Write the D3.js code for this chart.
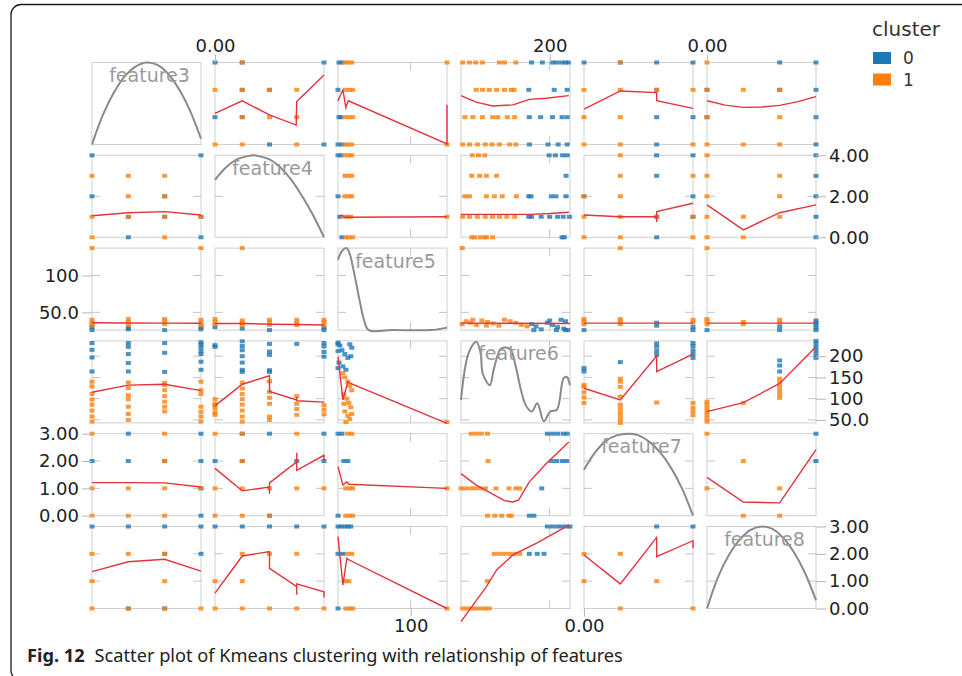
<!DOCTYPE html>
<html>
<head>
<meta charset="utf-8">
<script src="https://cdn.jsdelivr.net/npm/d3@7"></script>
<style>
  body { margin: 0; background: #fff; }
  svg { display: block; }
</style>
</head>
<body>
<script>
// features and their ranges
const features = ["feature3", "feature4", "feature5", "feature6", "feature7", "feature8"];
const extents = [[0, 3], [0, 4], [26, 137], [43, 236], [0, 3], [0, 3]];
const yTicks = [[], [0, 2, 4], [50, 100], [50, 100, 150, 200], [0, 1, 2, 3], [0, 1, 2, 3]];
const xTicks = [[], [0], [100], [200], [0], [0]];
const clusters = ["0", "1"];
const colors = ["#1f77b4", "#ff7f0e"];

// points per pair of features: [lower feature value, higher feature value, cluster]
const f3f4 = [[3,0,0],[3,1,0],[3,1,1],[3,4,0],[2,0,1],[2,1,0],[2,1,1],[2,2,0],[2,2,1],[2,3,1],[1,0,0],[1,1,0],[1,1,1],[1,2,1],[1,3,1],[0,0,1],[0,1,1],[0,2,0],[0,3,1],[0,4,0]];
const f3f5 = [[0,26,0],[1,27,0],[2,26,0],[3,27,0],[0,30,0],[1,29,0],[3,30,0],[0,33,1],[0,36,1],[0,40,1],[1,33,1],[1,37,1],[1,41,1],[2,34,1],[2,38,1],[2,41,1],[3,33,1],[3,36,1],[3,40,1],[3,137,1],[0,137,1]];
const f3f6 = [[0,164,0],[0,197,0],[0,215,0],[0,231,0],[0,46,1],[0,58,1],[0,72,1],[0,86,1],[0,98,1],[0,111,1],[0,129,1],[0,140,1],
  [1,164,0],[1,184,0],[1,205,0],[1,222,0],[1,231,0],[1,50,1],[1,64,1],[1,81,1],[1,99,1],[1,108,1],[1,125,1],[1,138,1],
  [2,163,0],[2,208,0],[2,231,0],[2,70,1],[2,81,1],[2,93,1],[2,106,1],[2,120,1],[2,132,1],[2,137,1],
  [3,168,0],[3,187,0],[3,205,0],[3,212,0],[3,221,0],[3,228,0],[3,233,0],[3,46,1],[3,58,1],[3,69,1],[3,81,1],[3,111,1],[3,120,1],[3,140,1]];
const f3f7 = [[0,0,1],[0,1,1],[0,2,0],[0,3,1],[1,0,1],[1,1,1],[1,2,0],[1,3,0],[2,0,1],[2,1,1],[2,2,0],[2,2,1],[2,3,1],[3,0,0],[3,1,0],[3,1,1],[3,2,0],[3,3,0]];
const f3f8 = [[0,0,1],[0,1,1],[0,2,1],[0,3,0],[1,0,0],[1,0,1],[1,2,1],[1,3,0],[2,0,0],[2,0,1],[2,1,1],[2,2,0],[2,2,1],[2,3,0],[3,0,1],[3,2,0],[3,3,0]];
const f4f5 = [[4,26,0],[4,29,0],[4,33,1],[4,37,1],[4,40,1],[3,33,1],[3,36,1],[3,40,1],[2,26,0],[2,33,1],[2,37,1],[2,40,1],[1,28,0],[1,33,1],[1,36,1],[1,39,1],[1,137,1],[0,30,0],[0,34,1],[0,37,1],[0,41,1]];
const f4f6 = [[4,63,1],[4,74,1],[4,85,1],[4,199,0],[4,210,0],[4,223,0],[4,231,0],
  [3,62,1],[3,76,1],[3,88,1],[3,106,1],[3,229,0],
  [2,50,1],[2,58,1],[2,88,1],[2,102,1],[2,116,1],[2,141,1],[2,163,0],[2,167,0],[2,203,0],[2,211,0],[2,229,0],
  [1,46,1],[1,58,1],[1,72,1],[1,86,1],[1,99,1],[1,111,1],[1,124,1],[1,138,1],[1,163,0],[1,168,0],[1,185,0],[1,200,0],[1,214,0],[1,224,0],[1,235,0],
  [0,62,1],[0,67,1],[0,77,1],[0,85,1],[0,88,1],[0,99,1],[0,222,0],[0,226,0]];
const f4f7 = [[0,0,1],[0,1,1],[0,2,0],[0,3,1],[1,0,1],[1,1,1],[1,2,0],[1,2,1],[1,3,0],[1,3,1],[2,0,0],[2,0,1],[2,1,1],[2,3,0],[3,1,1],[3,2,0],[3,3,1],[4,1,1],[4,2,0],[4,3,0]];
const f4f8 = [[0,0,1],[0,1,1],[0,3,0],[1,0,1],[1,1,1],[1,2,1],[1,3,0],[2,0,1],[2,2,1],[2,3,0],[3,0,1],[3,2,1],[3,3,0],[4,0,1],[4,3,0]];
const f5f6 = [[26,232,0],[28,225,0],[30,214,0],[33,205,0],[36,196,0],[38,228,0],[40,220,0],[27,185,0],[31,176,0],[34,168,0],[26,172,0],[26,212,0],[26,228,0],[39,200,0],
  [31,160,1],[33,150,1],[36,140,1],[38,130,1],[40,120,1],[32,110,1],[35,100,1],[37,90,1],[39,80,1],[33,70,1],[36,60,1],[38,52,1],[34,45,1],[40,64,1],[32,88,1],[137,45,1]];
const f5f7 = [[26,3,0],[30,3,0],[36,3,1],[40,3,1],[32,2,0],[36,2,0],[34,1,1],[38,1,1],[41,1,1],[137,1,1],[26,0,0],[34,0,1],[38,0,1],[41,0,1]];
const f5f8 = [[26,3,0],[29,3,0],[33,3,0],[36,3,0],[39,3,0],[26,2,0],[31,2,0],[36,2,1],[40,2,1],[34,1,1],[37,1,1],[26,0,0],[34,0,1],[38,0,1],[41,0,1],[137,0,1]];
const f6f7 = [[90,0,1],[103,0,1],[115,0,1],[128,0,1],[132,0,1],[164,0,0],[172,0,0],
  [43,1,1],[51,1,1],[60,1,1],[68,1,1],[77,1,1],[86,1,1],[105,1,1],[128,1,1],[140,1,1],[147,1,1],[186,1,0],
  [91,2,1],[203,2,0],[212,2,0],[222,2,0],[230,2,0],
  [61,3,1],[70,3,1],[79,3,1],[90,3,1],[196,3,0],[205,3,0],[214,3,0],[224,3,0],[231,3,0]];
const f6f8 = [[46,0,1],[54,0,1],[62,0,1],[70,0,1],[78,0,1],[86,0,1],[93,0,1],[90,1,1],
  [102,2,1],[111,2,1],[120,2,1],[129,2,1],[138,2,1],[147,2,1],[164,2,0],[178,2,0],[190,2,0],
  [196,3,0],[205,3,0],[214,3,0],[222,3,0],[230,3,0],[236,3,0]];
const f7f8 = [[0,1,1],[0,2,1],[1,0,1],[1,2,1],[2,1,1],[2,3,0],[3,0,1],[3,3,0]];

const pairPoints = {
  "0-1": f3f4, "0-2": f3f5, "0-3": f3f6, "0-4": f3f7, "0-5": f3f8,
  "1-2": f4f5, "1-3": f4f6, "1-4": f4f7, "1-5": f4f8,
  "2-3": f5f6, "2-4": f5f7, "2-5": f5f8,
  "3-4": f6f7, "3-5": f6f8, "4-5": f7f8
};

// smoothed lines per panel (row-col): [column feature value, row feature value]
const line01 = [[0,1.14],[1,1.6],[2,1.08],[2.98,0.71],[3,1.57],[4,2.54]];
const line02 = [[26,1.6],[31,2.0],[34,1.35],[36.5,1.6],[137,0.02],[137,1.45]];
const line03 = [[43,1.79],[70,1.55],[99,1.41],[135,1.45],[164,1.65],[194,1.69],[234,1.79]];
const line04 = [[0,1.29],[1,1.96],[2,1.9],[2,1.6],[3,1.32]];
const line05 = [[0,1.6],[0.5,1.44],[1,1.36],[1.5,1.37],[2,1.43],[2.5,1.57],[3,1.75]];
const line10 = [[0,1.05],[1,1.2],[2,1.25],[3,1.09]];
const line12 = [[26,1.02],[30,1.08],[33,0.98],[137,1.0]];
const line13 = [[43,1.12],[100,1.12],[164,1.12],[200,1.16],[234,1.22]];
const line14 = [[0,1.09],[1,1.0],[2,1.0],[2,0.75],[2,1.25],[3,1.66]];
const line15 = [[0,1.58],[1,0.36],[2,1.2],[3,1.58]];
const line20 = [[0,35.9],[1,35.7],[2,35.5],[3,35.3]];
const line21 = [[0,35],[1,35],[2,34],[3,33.5],[4,33]];
const line23 = [[43,35.5],[236,35]];
const line24 = [[0,35.5],[3,35.5]];
const line25 = [[0,35.5],[3,35.5]];
const line30 = [[0,115],[1,132],[2,134],[3,119]];
const line31 = [[0,83],[1,134],[2,154],[2,117],[3,97],[3,104],[3,95],[4,92]];
const line32 = [[26,199],[31,97],[36,140],[37,138],[137,42]];
const line34 = [[0,124.6],[1,97],[2,200.6],[2,163.7],[3,205]];
const line35 = [[0,69.6],[1,90.8],[2,136],[3,222.5]];
const line40 = [[0,1.21],[1,1.21],[2,1.2],[3,1.05]];
const line41 = [[0,1.73],[1,0.91],[2,1.05],[2,0.8],[2,1.2],[3,1.97],[3,2.3],[3,1.66],[4,2.21],[4,2.0]];
const line42 = [[26,1.79],[31,1.12],[35,1.24],[37,1.15],[137,1.0]];
const line43 = [[43,1.54],[70,1.12],[99,0.79],[120,0.55],[135,0.5],[145,0.57],[164,1.24],[194,1.91],[234,2.7]];
const line45 = [[0,1.4],[1,0.5],[2,0.47],[3,2.42]];
const line50 = [[0,1.35],[1,1.71],[2,1.8],[3,1.37]];
const line51 = [[0,0.56],[1,1.92],[2,2.08],[2,1.47],[3,0.8],[3,0.5],[3,0.9],[4,0.61],[4,0.4]];
const line52 = [[26,2.63],[31,0.86],[35,1.84],[36,1.8],[137,0]];
const line53 = [[43,-0.48],[58,-0.05],[88,0.8],[106,1.41],[135,1.96],[177,2.39],[234,3.05]];
const line54 = [[0,1.96],[1,0.9],[2,2.6],[2,1.9],[3,2.48],[3,2.2]];

const lines = {
  "0-1": line01, "0-2": line02, "0-3": line03, "0-4": line04, "0-5": line05,
  "1-0": line10, "1-2": line12, "1-3": line13, "1-4": line14, "1-5": line15,
  "2-0": line20, "2-1": line21, "2-3": line23, "2-4": line24, "2-5": line25,
  "3-0": line30, "3-1": line31, "3-2": line32, "3-4": line34, "3-5": line35,
  "4-0": line40, "4-1": line41, "4-2": line42, "4-3": line43, "4-5": line45,
  "5-0": line50, "5-1": line51, "5-2": line52, "5-3": line53, "5-4": line54
};

// density curves on the diagonal: [feature value, relative density]
const dens3 = [[0,0],[0.3,0.36],[0.6,0.63],[0.9,0.83],[1.2,0.95],[1.5,1.0],[1.8,0.97],[2.1,0.86],[2.4,0.67],[2.7,0.41],[3,0.07]];
const dens4 = [[0,0.7],[0.4,0.85],[0.8,0.95],[1.2,0.99],[1.4,1.0],[1.6,0.99],[2.0,0.95],[2.4,0.85],[2.8,0.7],[3.2,0.5],[3.6,0.27],[4,0]];
const dens5 = [[26,0.86],[30.4,0.97],[34.9,1.0],[38.2,0.92],[41.5,0.75],[44.9,0.55],[48.2,0.35],[52.6,0.12],[57.1,0],[81.5,0],[120.4,0],[128.1,0.01],[137,0.03]];
const dens6 = [[43,0.28],[56.5,0.85],[70,0.99],[77.7,0.85],[81.6,0.6],[94.1,0.46],[100.9,0.65],[114.4,0.91],[129.9,0.9],[139.5,0.7],[149.2,0.4],[158.8,0.2],[168.5,0.14],[178.1,0.24],[189.7,0.02],[201.3,0.14],[212.8,0.16],[224.4,0.54],[230.2,0.56],[236,0.46]];
const dens7 = [[0,0.56],[0.3,0.77],[0.6,0.91],[0.9,0.98],[1.26,1.0],[1.5,0.98],[1.8,0.9],[2.1,0.77],[2.4,0.58],[2.7,0.33],[3,0]];
const dens8 = [[0,0],[0.3,0.38],[0.6,0.65],[0.9,0.84],[1.2,0.96],[1.53,1.0],[1.8,0.97],[2.1,0.86],[2.4,0.68],[2.7,0.43],[3,0.1]];
const densities = [dens3, dens4, dens5, dens6, dens7, dens8];

// layout

const w = 962;
const h = 676;
const cellW = 109;
const cellH = 82;
const stepX = 123;
const stepY = 92.8;
const x0 = 92;
const y0 = 62.5;
const n = features.length;

const svg = d3.select("body").append("svg").
attr("width", w).
attr("height", h);

svg.append("rect").
attr("width", w).
attr("height", h).
attr("fill", "#fff");

// figure frame
svg.append("rect").
attr("x", 11).
attr("y", 4.5).
attr("width", 1000).
attr("height", 676).
attr("rx", 10).
attr("fill", "none").
attr("stroke", "#1a1a1a").
attr("stroke-width", 1.3);

const xs = features.map((f, i) => d3.scaleLinear().domain(extents[i]).range([x0 + i * stepX, x0 + i * stepX + cellW]));
const ys = features.map((f, i) => d3.scaleLinear().domain(extents[i]).range([y0 + i * stepY + cellH, y0 + i * stepY]));

const fmt = d3.format(".3r");
const line = d3.line().x(d => d[0]).y(d => d[1]);

function inner(v, ext) {
  return v > ext[0] && v < ext[1];
}

for (let r = 0; r < n; r++) {
  for (let c = 0; c < n; c++) {
    const x = xs[c];
    const y = ys[r];
    const g = svg.append("g").attr("class", "cell");
    const left = x.range()[0], right = x.range()[1];
    const top = y.range()[1], bottom = y.range()[0];

    g.append("rect").
    attr("x", left).
    attr("y", top).
    attr("width", cellW).
    attr("height", cellH).
    attr("fill", "none").
    attr("stroke", "#cfcfcf").
    attr("stroke-width", 1);

    // small inner tick stubs
    yTicks[r].filter(v => inner(v, extents[r])).forEach(v => {
      g.append("line").attr("x1", left).attr("x2", left + 8).attr("y1", y(v)).attr("y2", y(v)).attr("stroke", "#c4c4c4");
      g.append("line").attr("x1", right - 8).attr("x2", right).attr("y1", y(v)).attr("y2", y(v)).attr("stroke", "#c4c4c4");
    });
    xTicks[c].filter(v => inner(v, extents[c])).forEach(v => {
      g.append("line").attr("x1", x(v)).attr("x2", x(v)).attr("y1", top).attr("y2", top + 8).attr("stroke", "#c4c4c4");
      g.append("line").attr("x1", x(v)).attr("x2", x(v)).attr("y1", bottom - 8).attr("y2", bottom).attr("stroke", "#c4c4c4");
    });

    if (r === c) {
      const dy = d3.scaleLinear().domain([0, 1]).range([bottom, top]);
      g.append("path").
      attr("d", d3.line().x(d => x(d[0])).y(d => dy(d[1])).curve(d3.curveCatmullRom)(densities[r])).
      attr("fill", "none").
      attr("stroke", "#8a8a8a").
      attr("stroke-width", 2);

      g.append("text").
      attr("x", (left + right) / 2 + 3).
      attr("y", top + 19.5).
      attr("text-anchor", "middle").
      attr("font-family", "DejaVu Sans").
      attr("font-size", 19).
      attr("fill", "#9a9a9a").
      text(features[r]);
      continue;
    }

    // points: pair data is stored as [lower index value, higher index value]
    const lo = Math.min(r, c), hi = Math.max(r, c);
    const raw = pairPoints[lo + "-" + hi];
    const pts = raw.map(d => c < r ? { x: d[0], y: d[1], k: d[2] } : { x: d[1], y: d[0], k: d[2] }).
    sort((a, b) => a.k - b.k);

    g.selectAll("rect.pt").
    data(pts).
    enter().
    append("rect").
    attr("class", "pt").
    attr("x", d => x(d.x) - 2.5).
    attr("y", d => y(d.y) - 2).
    attr("width", 5).
    attr("height", 4).
    attr("fill", d => colors[d.k]).
    attr("fill-opacity", 0.8);

    g.append("path").
    attr("d", line(lines[r + "-" + c].map(d => [x(d[0]), y(d[1])]))).
    attr("fill", "none").
    attr("stroke", "#e3343c").
    attr("stroke-width", 1.4);
  }
}

// axes

function styleAxis(sel) {
  sel.select(".domain").remove();
  sel.selectAll(".tick line").attr("stroke", "#b5b5b5");
  sel.selectAll(".tick text").
  attr("fill", "#222").
  attr("font-family", "DejaVu Sans").
  attr("font-size", 18);
}

for (let r = 1; r < n; r++) {
  const rightSide = r % 2 === 1;
  const axis = (rightSide ? d3.axisRight(ys[r]) : d3.axisLeft(ys[r])).
  tickValues(yTicks[r]).
  tickSize(10).
  tickFormat(fmt);
  svg.append("g").
  attr("transform", "translate(" + (rightSide ? xs[n - 1].range()[1] : xs[0].range()[0]) + ",0)").
  call(axis).
  call(styleAxis);
}

for (let c = 1; c < n; c++) {
  const topSide = c % 2 === 1;
  const axis = (topSide ? d3.axisTop(xs[c]) : d3.axisBottom(xs[c])).
  tickValues(xTicks[c]).
  tickSize(8).
  tickFormat(fmt);
  svg.append("g").
  attr("transform", "translate(0," + (topSide ? ys[0].range()[1] : ys[n - 1].range()[0]) + ")").
  call(axis).
  call(styleAxis);
}

// legend

const legend = svg.append("g").attr("transform", "translate(872,0)");

legend.append("text").
attr("x", 0).
attr("y", 36).
attr("font-family", "DejaVu Sans").
attr("font-size", 20).
attr("fill", "#333").
text("cluster");

legend.selectAll("rect").
data(clusters).
enter().
append("rect").
attr("x", 1).
attr("y", (d, i) => 52 + i * 21.5).
attr("width", 18).
attr("height", 12).
attr("fill", (d, i) => colors[i]);

legend.selectAll("text.lab").
data(clusters).
enter().
append("text").
attr("class", "lab").
attr("x", 31).
attr("y", (d, i) => 64 + i * 21.5).
attr("font-family", "DejaVu Sans").
attr("font-size", 17).
attr("fill", "#333").
text(d => d);

// caption

const caption = svg.append("text").
attr("x", 27).
attr("y", 662).
attr("font-family", "Noto Sans").
attr("font-size", 18.2).
attr("fill", "#222");

caption.append("tspan").
attr("font-weight", "bold").
text("Fig. 12");

caption.append("tspan").
attr("dx", 10).
text("Scatter plot of Kmeans clustering with relationship of features");
</script>
</body>
</html>
